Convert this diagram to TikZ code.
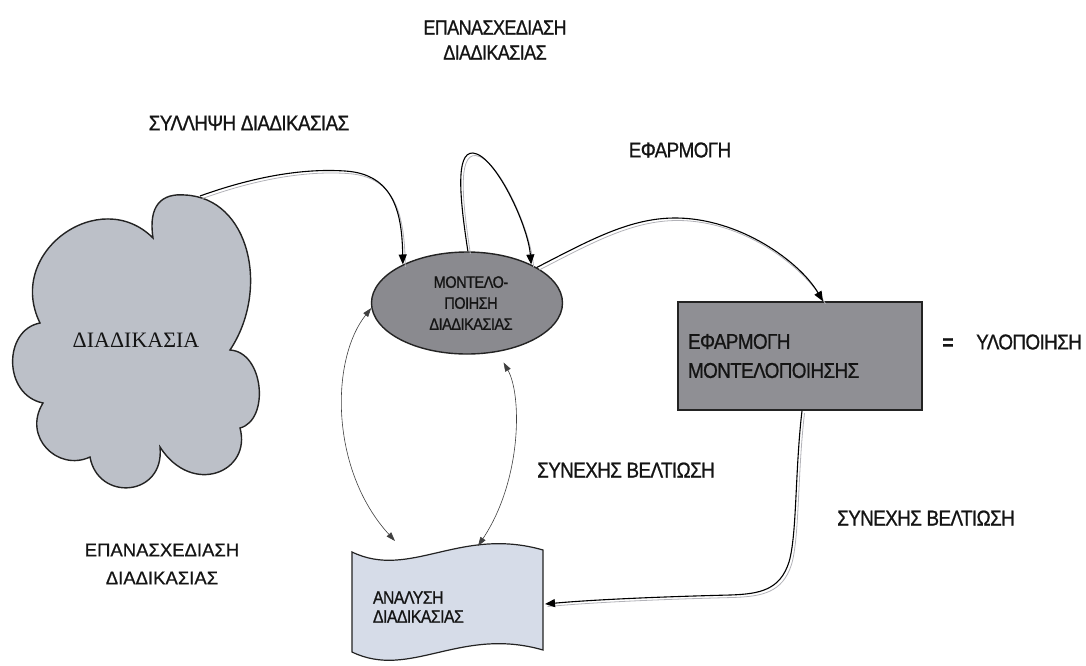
\documentclass[tikz,border=0pt]{standalone}
\usepackage{fontspec}
\usetikzlibrary{arrows.meta,shapes.geometric}

\newfontfamily\labfont[LetterSpace=-3,FakeStretch=0.88,FakeBold=0.8]{Liberation Sans}
\newfontfamily\widefont[FakeBold=0.6]{Liberation Sans}
\newfontfamily\serifgr{Liberation Serif}
\newcommand\lbsz[2]{\labfont\fontsize{#1}{#2}\selectfont}

\definecolor{cloudgray}{RGB}{188,192,200}
\definecolor{modelgray}{RGB}{138,138,143}
\definecolor{implgray}{RGB}{143,143,148}
\definecolor{docblue}{RGB}{214,220,232}
\definecolor{edge}{RGB}{35,35,35}
\definecolor{trail}{RGB}{178,178,184}
\definecolor{ink}{RGB}{20,20,20}

\tikzset{
  flow/.style={draw=black, line width=1.1pt,
    -{Triangle[length=10pt,width=8pt]},
    preaction={draw=trail, line width=0.8pt, -,
      transform canvas={shift={(2.5pt,-2.5pt)}}}},
  link/.style={draw=black!75, line width=0.6pt,
    {Triangle[length=9pt,width=6pt]}-{Triangle[length=9pt,width=6pt]}},
  lab/.style={text=ink, align=center, inner sep=0pt},
  outline/.style={draw=edge, line width=1.4pt},
}

\begin{document}
\begin{tikzpicture}[x=1pt,y=-1pt]
  \useasboundingbox[fill=white] (0,0) rectangle (1086,665);

  % the process cloud
  \draw[outline, fill=cloudgray]
    (153,238) .. controls (148,205) and (162,193) .. (185,195)
    .. controls (250,198) and (270,290) .. (230,350)
    .. controls (264,352) and (270,420) .. (240,428)
    .. controls (252,472) and (192,497) .. (160,447)
    .. controls (165,497) and (98,502) .. (90,457)
    .. controls (58,472) and (22,437) .. (43,403)
    .. controls (3,395) and (3,330) .. (40,323)
    .. controls (5,252) and (100,185) .. (153,238) -- cycle;
  \coordinate (cloudtop) at (200,196);
  \node[lab, font=\serifgr\fontsize{22}{26}\selectfont] (process) at (136,340) {ΔΙΑΔΙΚΑΣΙΑ};

  % modelling ellipse
  \node[ellipse, outline, fill=modelgray, minimum width=191pt, minimum height=102pt,
        inner sep=0pt, lab, font=\lbsz{16.5}{21}] (model) at (467,303)
        {\hspace*{8pt}ΜΟΝΤΕΛΟ-\\\hspace*{8pt}ΠΟΙΗΣΗ\\\hspace*{8pt}ΔΙΑΔΙΚΑΣΙΑΣ};

  % implementation box
  \node[draw=edge, line width=1.4pt, fill=implgray, minimum width=244pt, minimum height=108pt,
        text width=224pt, inner xsep=10pt, inner ysep=0pt, align=left, text=ink,
        font=\lbsz{21.5}{29}] (impl) at (800,356) {ΕΦΑΡΜΟΓΗ\\ΜΟΝΤΕΛΟΠΟΙΗΣΗΣ};

  % analysis document
  \draw[outline, line width=1.2pt, fill=docblue]
    (352,552) .. controls (410,580) and (460,526) .. (543,550)
    -- (543,650) .. controls (460,626) and (410,680) .. (352,652) -- cycle;
  \node[minimum width=191pt, minimum height=100pt, text width=170pt, inner xsep=0pt,
        align=left, text=ink, font=\lbsz{18}{19}] (doc) at (458,607)
        {ΑΝΑΛΥΣΗ\\ΔΙΑΔΙΚΑΣΙΑΣ};
  \coordinate (docin) at (545,604);
  \coordinate (docA) at (395,541);
  \coordinate (docB) at (478,546);

  % labels
  \node[lab, font=\lbsz{20.5}{25}] (redesignTop) at (495,40) {ΕΠΑΝΑΣΧΕΔΙΑΣΗ\\ΔΙΑΔΙΚΑΣΙΑΣ};
  \node[lab, font=\lbsz{21.5}{25}] (capture) at (249,123) {ΣΥΛΛΗΨΗ ΔΙΑΔΙΚΑΣΙΑΣ};
  \node[lab, font=\lbsz{21.5}{25}] (apply) at (680,150) {ΕΦΑΡΜΟΓΗ};
  \node[lab, font=\lbsz{21.5}{25}] (improveMid) at (626,470) {ΣΥΝΕΧΗΣ ΒΕΛΤΙΩΣΗ};
  \node[lab, font=\lbsz{21.5}{25}] (improveRight) at (926,518) {ΣΥΝΕΧΗΣ ΒΕΛΤΙΩΣΗ};
  \node[lab, font=\widefont\fontsize{18.5}{28}\selectfont] (redesignLeft) at (162,564) {ΕΠΑΝΑΣΧΕΔΙΑΣΗ\\ΔΙΑΔΙΚΑΣΙΑΣ};
  \node[lab, font=\labfont\bfseries\fontsize{22}{25}\selectfont] (equals) at (948,344) {=};
  \node[lab, font=\lbsz{21.5}{25}] (realize) at (1029,342) {ΥΛΟΠΟΙΗΣΗ};

  % connectors
  \draw[flow] (cloudtop) .. controls (250,178) and (300,168) .. (345,171)
    .. controls (395,174) and (402,215) .. (model.149);
  \draw[flow] (model.89) .. controls (460,200) and (455,152) .. (473,153)
    .. controls (495,155) and (528,225) .. (model.31);
  \draw[flow] (model.27) .. controls (590,240) and (630,218) .. (675,218)
    .. controls (740,218) and (800,262) .. ([xshift=23pt]impl.north);
  \draw[flow] ([xshift=2pt]impl.south) .. controls (795,470) and (797,535) .. (789,562)
    .. controls (780,590) and (760,594) .. (730,595)
    .. controls (650,597) and (590,600) .. (docin);
  \draw[link] (model.183) .. controls (330,360) and (330,470) .. (docA);
  \draw[link, shorten <=12pt] (model.-58) .. controls (522,395) and (522,480) .. (docB);
\end{tikzpicture}
\end{document}
